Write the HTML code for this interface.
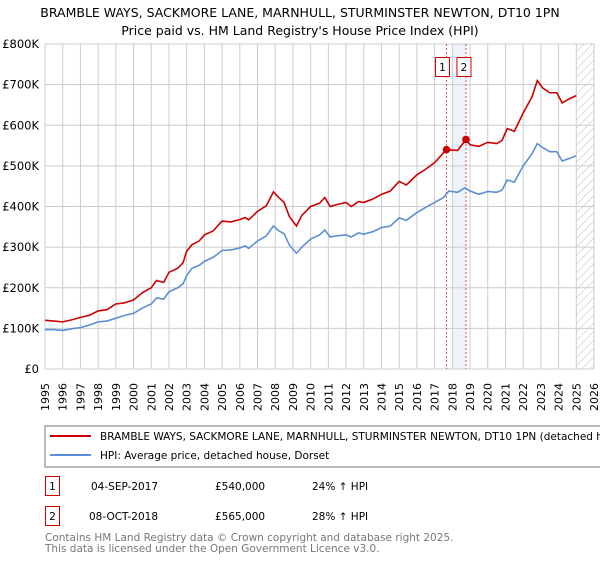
<!DOCTYPE html>
<html><head><meta charset="utf-8"><style>
body{margin:0;background:#fff;font-family:"DejaVu Sans","Liberation Sans",sans-serif;}
svg text{font-family:"DejaVu Sans","Liberation Sans",sans-serif;}
</style></head><body>
<svg id="c" width="600" height="560" xmlns="http://www.w3.org/2000/svg">
<defs><pattern id="hatch" width="6" height="6" patternUnits="userSpaceOnUse" patternTransform="rotate(45)"><line x1="0" y1="0" x2="0" y2="6" stroke="#bbb" stroke-width="1"/></pattern></defs>
<text x="300" y="17" text-anchor="middle" font-size="12.5" fill="#000">BRAMBLE WAYS, SACKMORE LANE, MARNHULL, STURMINSTER NEWTON, DT10 1PN</text>
<text x="300" y="35" text-anchor="middle" font-size="12.5" fill="#000">Price paid vs. HM Land Registry's House Price Index (HPI)</text>
<g id="grid"></g><g id="marks"></g>
<rect x="45" y="426" width="560" height="41" fill="#fff" stroke="#777"/>
<line x1="50" y1="436" x2="91" y2="436" stroke="#cc0000" stroke-width="2"/>
<text x="100" y="440" font-size="10.5">BRAMBLE WAYS, SACKMORE LANE, MARNHULL, STURMINSTER NEWTON, DT10 1PN (detached house)</text>
<line x1="50" y1="455" x2="91" y2="455" stroke="#5b8fd4" stroke-width="2"/>
<text x="100" y="459" font-size="10.5">HPI: Average price, detached house, Dorset</text>
<rect x="45.5" y="476.5" width="14" height="19" fill="none" stroke="#cc0000"/>
<text x="52.5" y="490" text-anchor="middle" font-size="10.5">1</text>
<text x="91" y="490" font-size="10.5">04-SEP-2017</text>
<text x="215" y="490" font-size="10.5">£540,000</text>
<text x="312" y="490" font-size="10.5">24% ↑ HPI</text>
<rect x="45.5" y="506.5" width="14" height="19" fill="none" stroke="#cc0000"/>
<text x="52.5" y="520" text-anchor="middle" font-size="10.5">2</text>
<text x="89" y="520" font-size="10.5">08-OCT-2018</text>
<text x="215" y="520" font-size="10.5">£565,000</text>
<text x="312" y="520" font-size="10.5">28% ↑ HPI</text>
<text x="45" y="541" font-size="10.5" fill="#777">Contains HM Land Registry data © Crown copyright and database right 2025.</text>
<text x="45" y="552" font-size="10.5" fill="#777">This data is licensed under the Open Government Licence v3.0.</text>
</svg>
<script>
const yTicks=[0,100,200,300,400,500,600,700,800];
const yTickLabels=["£0","£100K","£200K","£300K","£400K","£500K","£600K","£700K","£800K"];
const years=[1995,1996,1997,1998,1999,2000,2001,2002,2003,2004,2005,2006,2007,2008,2009,2010,2011,2012,2013,2014,2015,2016,2017,2018,2019,2020,2021,2022,2023,2024,2025,2026];
const hpiT=[1995,1995.5,1996,1996.5,1997,1997.5,1998,1998.5,1999,1999.5,2000,2000.5,2001,2001.3,2001.7,2002,2002.5,2002.8,2003,2003.3,2003.7,2004,2004.5,2004.8,2005,2005.5,2006,2006.3,2006.5,2007,2007.5,2007.9,2008.2,2008.5,2008.8,2009.2,2009.5,2010,2010.5,2010.8,2011.1,2011.5,2012,2012.3,2012.7,2013,2013.5,2014,2014.5,2015,2015.4,2016,2016.5,2017,2017.5,2017.8,2018.3,2018.7,2019,2019.5,2020,2020.5,2020.8,2021.1,2021.5,2022,2022.5,2022.8,2023.1,2023.5,2023.9,2024.2,2024.6,2025];
const hpiV=[97,97,95,99,102,108,116,118,125,132,137,150,160,175,172,190,200,210,230,248,255,265,275,285,292,293,298,303,297,315,328,352,340,333,305,285,300,320,330,342,325,328,330,325,335,332,338,348,352,372,366,385,398,410,422,438,435,446,438,430,437,435,440,465,460,500,530,555,545,535,535,512,518,525];
const propT=[1995,1995.5,1996,1996.5,1997,1997.5,1998,1998.5,1999,1999.5,2000,2000.5,2001,2001.3,2001.7,2002,2002.5,2002.8,2003,2003.3,2003.7,2004,2004.5,2004.8,2005,2005.5,2006,2006.3,2006.5,2007,2007.5,2007.9,2008.2,2008.5,2008.8,2009.2,2009.5,2010,2010.5,2010.8,2011.1,2011.5,2012,2012.3,2012.7,2013,2013.5,2014,2014.5,2015,2015.4,2016,2016.5,2017,2017.67,2018.3,2018.77,2019,2019.5,2020,2020.5,2020.8,2021.1,2021.5,2022,2022.5,2022.8,2023.1,2023.5,2023.9,2024.2,2024.6,2025];
const propV=[120,118,116,121,127,132,143,146,160,163,170,188,200,218,213,238,248,262,290,306,315,330,340,355,364,362,368,373,367,388,402,436,422,410,375,352,378,400,408,422,400,405,410,400,412,410,418,430,438,462,453,478,492,508,540,538,565,552,548,558,555,562,592,585,630,670,710,692,680,680,655,665,673];
const saleT=[2017.67,2018.77];
const saleV=[540,565];
const saleLabels=["1","2"];
const X0=45,X1=594,Y0=369,Y1=44;
const x=t=>X0+(t-1995)/(2026-1995)*(X1-X0);
const y=v=>Y0-v/800*(Y0-Y1);
const NS="http://www.w3.org/2000/svg";
const mk=(tag,attrs,parent)=>{const e=document.createElementNS(NS,tag);for(const k in attrs)e.setAttribute(k,attrs[k]);parent.appendChild(e);return e;};
const grid=document.getElementById('grid'),marks=document.getElementById('marks');
let r=mk('rect',{x:X0,y:Y1,width:X1-X0,height:Y0-Y1,fill:'#fff'},grid);


let b=mk('rect',{x:x(2018.0),y:Y1,width:x(saleT[1])-x(2018.0),height:Y0-Y1,fill:'#eef3fb'},grid);


let h=mk('rect',{x:x(2025),y:Y1,width:X1-x(2025),height:Y0-Y1,fill:'url(#hatch)'},grid);


years.forEach(yr=>{
 let l=mk('line',{x1:x(yr),x2:x(yr),y1:Y1,y2:Y0,stroke:'#ccc'},grid);
 
 
 const tx=x(yr)+4, ty=383;
 let t=mk('text',{x:tx,y:ty,'text-anchor':'end','font-size':'11',transform:`rotate(-90 ${tx} ${ty})`},grid);
 t.textContent=yr;
 
 
});
yTicks.forEach((v,i)=>{
 let l=mk('line',{x1:X0,x2:X1,y1:y(v),y2:y(v),stroke:'#ccc'},grid);
 
 
 let t=mk('text',{x:39,y:y(v)+4,'text-anchor':'end','font-size':'11.5'},grid);
 t.textContent=yTickLabels[i];
 
 
});
const boxOff=[-4,-2];
saleT.forEach((t,i)=>{
 let l=mk('line',{x1:x(t),x2:x(t),y1:Y1,y2:Y0,stroke:'#e05050','stroke-dasharray':'2,2'},grid);
 
 
 const cx=x(t)+boxOff[i];
 let bx=mk('rect',{x:cx-7,y:57.5,width:14,height:19,fill:'#fff',stroke:'#cc0000'},grid);
 
 
 let tx=mk('text',{x:cx,y:71,'text-anchor':'middle','font-size':'10.5'},grid);
 tx.textContent=saleLabels[i];
 
 
});
let hp=mk('polyline',{points:hpiT.map((t,i)=>x(t)+','+y(hpiV[i])).join(' '),fill:'none',stroke:'#5b8fd4','stroke-width':1.6},marks);


let pp=mk('polyline',{points:propT.map((t,i)=>x(t)+','+y(propV[i])).join(' '),fill:'none',stroke:'#cc0000','stroke-width':1.6},marks);


saleT.forEach((t,i)=>{
 let c=mk('circle',{cx:x(t),cy:y(saleV[i]),r:3.8,fill:'#cc0000'},marks);
 
 
});
</script>
</body></html>
